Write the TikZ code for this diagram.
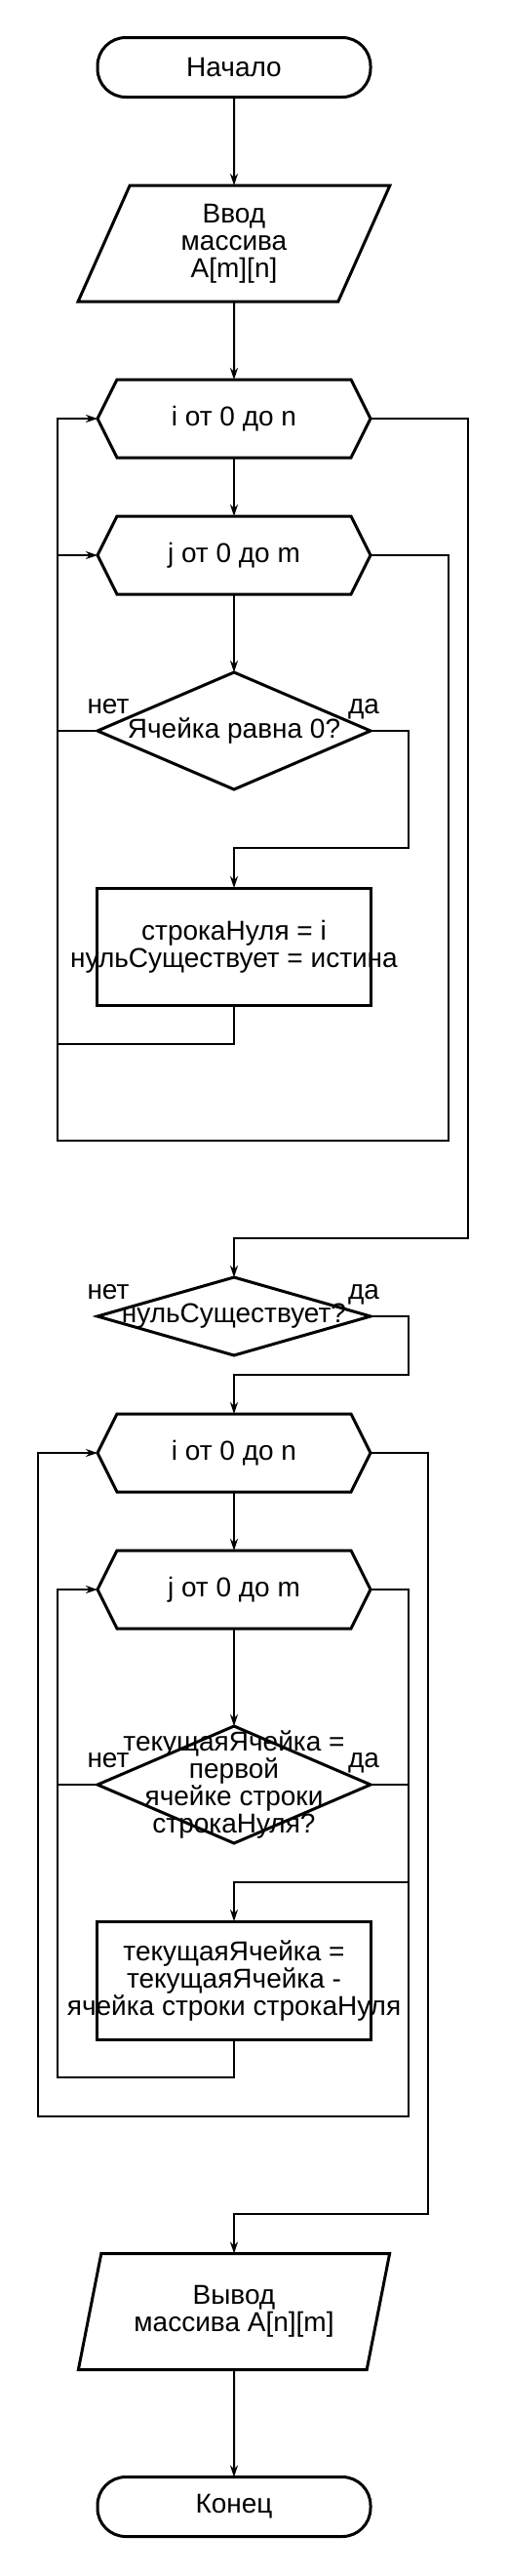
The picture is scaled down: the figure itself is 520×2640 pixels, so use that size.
\documentclass[tikz,border=0pt]{standalone}
\usepackage{fontspec}
\setmainfont{Liberation Sans}
\newfontfamily\flowfont{Liberation Sans}
\usetikzlibrary{arrows.meta,calc,shapes.geometric}

\newcommand\flowtext{\flowfont\fontsize{28}{28}\selectfont}

% loop limit: a flat hexagon round a plain node
\newcommand\loopnode[3]{%
  \node[looptext] (#1) at (#2) {#3};
  \draw[shapeline] (#1.west) -- ([xshift=20pt]#1.north west)
    -- ([xshift=-20pt]#1.north east) -- (#1.east)
    -- ([xshift=-20pt]#1.south east) -- ([xshift=20pt]#1.south west) -- cycle;}

\begin{document}
\begin{tikzpicture}[
    x=1pt, y=-1pt,
    line join=miter,
    shapeline/.style={line width=3pt},
    base/.style={draw, shapeline, font=\flowtext, align=center,
      inner sep=0pt, outer sep=0pt},
    term/.style={base, rectangle, rounded corners=29pt,
      minimum width=280pt, minimum height=61pt},
    io/.style={base, trapezium, trapezium left angle=71.6,
      trapezium right angle=108.4, trapezium stretches=true,
      minimum width=320pt, minimum height=119pt},
    looptext/.style={font=\flowtext, inner sep=0pt, outer sep=0pt,
      minimum width=280pt, minimum height=80pt},
    cond/.style={base, diamond, minimum width=280pt, minimum height=120pt},
    proc/.style={base, rectangle, minimum width=281pt, minimum height=120pt},
    txt/.style={font=\flowtext, align=center, inner sep=0pt},
    yn/.style={font=\flowtext, inner sep=0pt, anchor=base},
    flow/.style={line width=2pt, -{Stealth[length=12pt, width=8pt]}},
    link/.style={line width=2pt}
  ]

\useasboundingbox (0,0) rectangle (520,2640);

% ============================================================
% INPUT AND SEARCH FOR A ZERO CELL
% ============================================================
\node[term] (start) at (240,69) {Начало};
\node[io] (inp) at (240,249.5) {Ввод\\массива\\A[m][n]};
\loopnode{fi1}{240,429}{i от 0 до n}
\loopnode{fj1}{240,569}{j от 0 до m}
\node[cond, label={[txt]center:Ячейка равна 0?}] (c1) at (240,749) {};
\node[proc, label={[txt]center:{строкаНуля = i\\нульСуществует = истина}}]
  (set1) at (240,970) {};

\node[yn] (no1) at ($(c1)+(-129,-18)$) {нет};
\node[yn] (yes1) at ($(c1)+(133,-18)$) {да};

\draw[flow] (start) -- (inp);
\draw[flow] (inp) -- (fi1);
\draw[flow] (fi1) -- (fj1);
\draw[flow] (fj1) -- (c1);

% yes branch into the box
\draw[flow] (c1.east) -- ++(39,0) |- ($(set1.north)+(0,-41)$) -- (set1.north);
% no branch joins the rail
\draw[link] (c1.west) -- ++(-41,0);

% back to the inner loop
\draw[flow] (set1.south) -- ++(0,40) -| ($(fj1.west)+(-41,0)$) -- (fj1.west);
% end of inner loop, back to the outer loop
\draw[flow] (fj1.east) -- ++(80,0) -- ++(0,600) -| ($(fi1.west)+(-41,0)$)
  -- (fi1.west);

% ============================================================
% SUBTRACT THE ZERO ROW
% ============================================================
\node[cond, minimum height=80pt, label={[txt]center:нульСуществует?}]
  (c2) at (240,1349) {};
\loopnode{fi2}{240,1489}{i от 0 до n}
\loopnode{fj2}{240,1629}{j от 0 до m}
\node[cond, label={[txt]center:{текущаяЯчейка =\\первой\\ячейке строки\\строкаНуля?}}]
  (c3) at (240,1829) {};
\node[proc, minimum height=121pt,
  label={[txt]center:{текущаяЯчейка =\\текущаяЯчейка -\\ячейка строки строкаНуля}}]
  (set2) at (240,2029.5) {};

\node[yn] (no2) at ($(c2)+(-129,-18)$) {нет};
\node[yn] (yes2) at ($(c2)+(133,-18)$) {да};
\node[yn] (no3) at ($(c3)+(-129,-18)$) {нет};
\node[yn] (yes3) at ($(c3)+(133,-18)$) {да};

% end of outer loop
\draw[flow] (fi1.east) -- ++(100,0) -- ++(0,840) -| (c2.north);

\draw[flow] (c2.east) -- ++(39,0) |- ($(fi2.north)+(0,-40)$) -- (fi2.north);
\draw[flow] (fi2) -- (fj2);
\draw[flow] (fj2) -- (c3);

\draw[flow] (c3.east) -- ++(39,0) |- ($(set2.north)+(0,-40)$) -- (set2.north);
\draw[link] (c3.west) -- ++(-41,0);

\draw[flow] (set2.south) -- ++(0,39) -| ($(fj2.west)+(-41,0)$) -- (fj2.west);
\draw[flow] (fj2.east) -- ++(39,0) -- ++(0,540) -| ($(fi2.west)+(-61,0)$)
  -- (fi2.west);

% ============================================================
% OUTPUT
% ============================================================
\node[io] (outp) at (240,2369) {Вывод\\массива A[n][m]};
\node[term] (stop) at (240,2569) {Конец};

\draw[flow] (fi2.east) -- ++(59,0) -- ++(0,780) -| (outp.north);
\draw[flow] (outp) -- (stop);

\end{tikzpicture}
\end{document}
